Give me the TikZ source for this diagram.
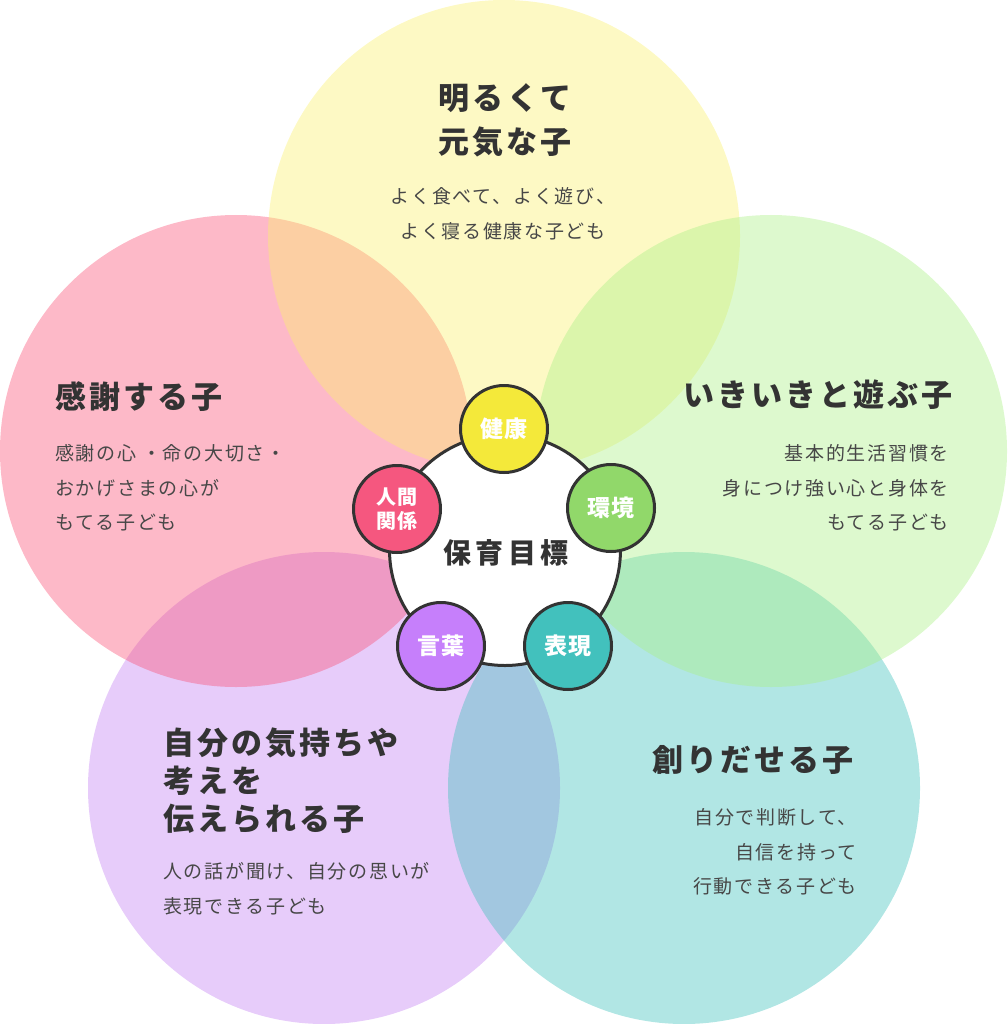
\documentclass[tikz,border=0pt]{standalone}
\usepackage{fontspec}
\usepackage{xcolor}
\usepackage{tikz}
\setmainfont{Noto Sans CJK JP}
\newfontfamily\jptitle[LetterSpace=10]{Noto Sans CJK JP}
\newfontfamily\jpsub[LetterSpace=9]{Noto Sans CJK JP}
\newfontfamily\jpmid[LetterSpace=15]{Noto Sans CJK JP}
\newfontfamily\jplab[LetterSpace=5]{Noto Sans CJK JP}
\definecolor{ink}{HTML}{333333}
\definecolor{subink}{HTML}{474747}
\definecolor{yellowbg}{RGB}{250,240,108}
\definecolor{pinkbg}{RGB}{250,80,117}
\definecolor{greenbg}{RGB}{170,240,132}
\definecolor{tealbg}{RGB}{60,192,187}
\definecolor{purplebg}{RGB}{195,127,242}
\definecolor{kenko}{HTML}{F4E93A}
\definecolor{kankyo}{HTML}{91D86A}
\definecolor{hyogen}{HTML}{42C1BD}
\definecolor{kotoba}{HTML}{C67FFB}
\definecolor{ningen}{HTML}{F5577F}

\begin{document}
\begin{tikzpicture}[x=1pt,y=-1pt]
\tikzstyle{every node}+=[inner sep=0pt]
\tikzstyle{petal}=[circle,minimum size=472,fill opacity=0.4]
\tikzstyle{goal}=[circle,draw=ink,line width=3,minimum size=87,text=white,font=\jplab\bfseries\fontsize{23}{24}\selectfont,align=center]
\tikzstyle{title}=[text=ink,font=\jptitle\bfseries\fontsize{31}{44}\selectfont]
\tikzstyle{sub}=[text=subink,font=\jpsub\fontsize{19}{34.5}\selectfont]
\useasboundingbox (0,0) rectangle (1007,1024);
\node [petal,fill=purplebg] (kimochi) at (324,788) {};
\node [petal,fill=tealbg] (tsukuri) at (684,788) {};
\node [petal,fill=pinkbg] (kansha) at (236,451) {};
\node [petal,fill=yellowbg] (genki) at (504,236) {};
\node [petal,fill=greenbg] (ikiiki) at (771,451) {};
\node [circle,draw=ink,line width=3,fill=white,minimum size=231] (mokuhyo) at (505,550) {};
\node [text=ink,font=\jpmid\bfseries\fontsize{28}{30}\selectfont] (mokuhyoT) at (506,553) {保育目標};
\node [goal,fill=kenko] (kenko) at (504,429) {健康};
\node [goal,fill=kankyo] (kankyo) at (611,508) {環境};
\node [goal,fill=hyogen] (hyogen) at (568,646) {表現};
\node [goal,fill=kotoba] (kotoba) at (441,646) {言葉};
\node [goal,fill=ningen,font=\jplab\bfseries\fontsize{20}{24}\selectfont] (ningen) at (397,509) {人間\\関係};
\node [title,align=center] (genkiT) at (505,120) {明るくて\\元気な子};
\node [sub,align=center] (genkiS) at (503,214) {よく食べて、よく遊び、\\よく寝る健康な子ども};
\node [title,anchor=west] (kanshaT) at (55,397) {感謝する子};
\node [sub,align=left,anchor=west] (kanshaS) at (55,488) {感謝の心 ・命の大切さ・\\おかげさまの心が\\もてる子ども};
\node [title,anchor=east] (ikiikiT) at (953,395) {いきいきと遊ぶ子};
\node [sub,align=right,anchor=east] (ikiikiS) at (949,488) {基本的生活習慣を\\身につけ強い心と身体を\\もてる子ども};
\node [title,align=left,anchor=west,font=\jptitle\bfseries\fontsize{31}{38}\selectfont] (kimochiT) at (163,781) {自分の気持ちや\\考えを\\伝えられる子};
\node [sub,align=left,anchor=west,font=\jpsub\fontsize{19}{35}\selectfont] (kimochiS) at (163,889) {人の話が聞け、自分の思いが\\表現できる子ども};
\node [title,anchor=west] (tsukuriT) at (652,760) {創りだせる子};
\node [sub,align=right,anchor=east] (tsukuriS) at (857,852) {自分で判断して、\\自信を持って\\行動できる子ども};
\end{tikzpicture}
\end{document}
